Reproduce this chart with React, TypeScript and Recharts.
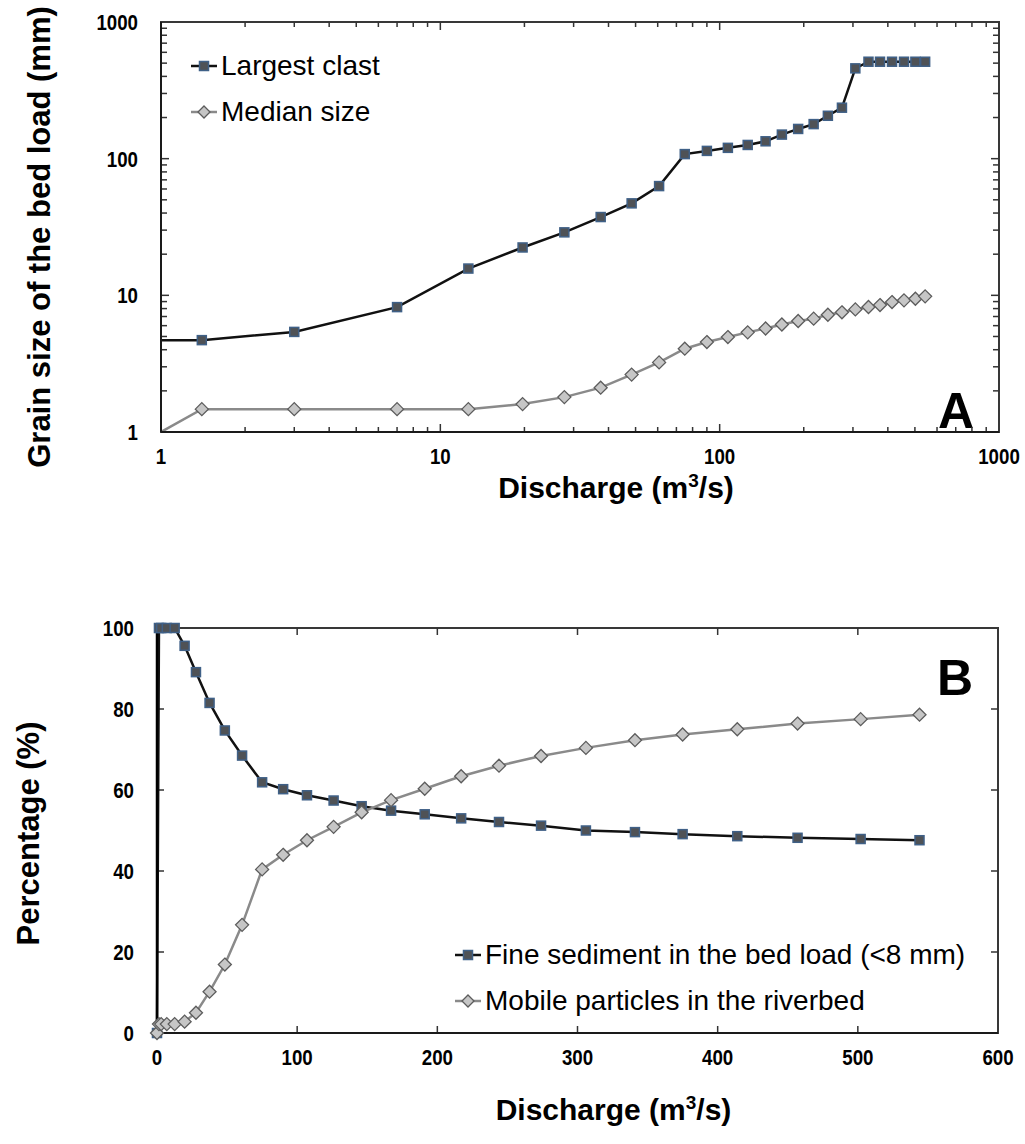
import React from "react";
import { LineChart, Line, XAxis, YAxis, Legend, ReferenceLine, ReferenceArea } from "recharts";

// Discharge steps (m³/s) shared by both panels
const discharge = [0, 1.4, 3, 7, 12.6, 19.7, 27.8, 37.5, 48.4, 60.7, 75, 90, 107, 126, 146, 167, 191, 217, 244, 274, 306, 341, 375, 414, 457, 502, 544];

// Panel A: grain size of the bed load (mm)
const largestClast = [4.7, 4.7, 5.4, 8.2, 15.7, 22.4, 28.9, 37.4, 47.1, 63, 108, 114, 120, 126, 134, 150, 165, 179, 206, 236, 458, 512, 512, 512, 512, 512, 512];
const medianSize = [1.0, 1.47, 1.47, 1.47, 1.47, 1.6, 1.8, 2.11, 2.63, 3.23, 4.07, 4.55, 4.95, 5.36, 5.72, 6.12, 6.49, 6.75, 7.21, 7.51, 7.89, 8.21, 8.49, 8.93, 9.19, 9.44, 9.83];

// Panel B: percentages (%)
const fineSediment = [0, 100, 100, 100, 100, 95.6, 89.1, 81.5, 74.7, 68.5, 61.9, 60.2, 58.7, 57.4, 56.0, 54.9, 54.0, 53.0, 52.1, 51.2, 50.0, 49.6, 49.1, 48.6, 48.2, 47.9, 47.6];
const mobileParticles = [0, 2.2, 2.2, 2.2, 2.2, 2.8, 5.0, 10.2, 16.9, 26.7, 40.4, 44.0, 47.6, 50.9, 54.5, 57.5, 60.3, 63.4, 66.0, 68.4, 70.4, 72.3, 73.7, 75.0, 76.4, 77.5, 78.6];

// Axis ticks
const logDecades = [1, 10, 100, 1000];
const dischargeTicks = [0, 100, 200, 300, 400, 500, 600];
const percentTicks = [0, 20, 40, 60, 80, 100];

const logTicks = [
  ...logDecades.slice(0, -1).flatMap((d) => [1, 2, 3, 4, 5, 6, 7, 8, 9].map((k) => k * d)),
  logDecades[logDecades.length - 1],
];

// zero discharge sits on the left edge of the log axis
const LOG_MIN = 1;

const grainData = discharge.map((q, i) => ({
  q: Math.max(q, LOG_MIN),
  largest: largestClast[i],
  median: medianSize[i],
}));

const percentData = discharge.map((q, i) => ({
  q,
  fine: fineSediment[i],
  mobile: mobileParticles[i],
}));

const FONT = "'Liberation Sans', Arial, Helvetica, sans-serif";

const DARK = { stroke: "#111", fill: "#4f5256", edge: "#3f6087" };
const LIGHT = { stroke: "#8a8a8a", fill: "#c6c6c6", edge: "#5c5c5c" };
const FRAME = "#383838";
const TICK = "#333";

const SquareDot = (props: any) => {
  const { cx, cy, index, hideFirst } = props;
  if (cx == null || cy == null || (hideFirst && index === 0)) return <g key={`s${index}`} />;
  return (
    <rect key={`s${index}`} x={cx - 4.5} y={cy - 4.5} width={9} height={9} fill={DARK.fill} stroke={DARK.edge} strokeWidth={1.5} />
  );
};

const DiamondDot = (props: any) => {
  const { cx, cy, index, hideFirst } = props;
  if (cx == null || cy == null || (hideFirst && index === 0)) return <g key={`d${index}`} />;
  const r = 6.5;
  return (
    <path
      key={`d${index}`}
      d={`M${cx},${cy - r}L${cx + r},${cy}L${cx},${cy + r}L${cx - r},${cy}Z`}
      fill={LIGHT.fill}
      stroke={LIGHT.edge}
      strokeWidth={1.3}
    />
  );
};

// condensed bold numerals for the tick labels
const NumLabel = ({ x, y, anchor, value }: any) => (
  <text
    transform={`translate(${x},${y}) scale(0.85,1)`}
    x={0}
    y={0}
    textAnchor={anchor}
    fontFamily={FONT}
    fontWeight={700}
    fontSize={22}
    fill="#000"
  >
    {String(value)}
  </text>
);

const makeXLabel = (labels: number[] | null) => (props: any) => {
  const { x, y, payload } = props;
  const v = payload.value;
  if (labels && !labels.includes(v)) return <g />;
  return <NumLabel x={x} y={y + 32} anchor="middle" value={v} />;
};

const makeYLabel = (labels: number[] | null) => (props: any) => {
  const { x, y, payload } = props;
  const v = payload.value;
  if (labels && !labels.includes(v)) return <g />;
  return <NumLabel x={x - 23} y={y + 8} anchor="end" value={v} />;
};

// inward tick marks on both opposite edges of the frame
const VerticalTickShape = (len: number) => (props: any) => {
  const { x1, x2, y1, y2 } = props;
  const lo = Math.max(y1, y2);
  const hi = Math.min(y1, y2);
  return (
    <g>
      <line x1={x1} x2={x2} y1={lo} y2={lo - len} stroke={TICK} strokeWidth={1.5} />
      <line x1={x1} x2={x2} y1={hi} y2={hi + len} stroke={TICK} strokeWidth={1.5} />
    </g>
  );
};

const HorizontalTickShape = (len: number) => (props: any) => {
  const { x1, x2, y1, y2 } = props;
  const l = Math.min(x1, x2);
  const r = Math.max(x1, x2);
  return (
    <g>
      <line x1={l} x2={l + len} y1={y1} y2={y2} stroke={TICK} strokeWidth={1.5} />
      <line x1={r} x2={r - len} y1={y1} y2={y2} stroke={TICK} strokeWidth={1.5} />
    </g>
  );
};

const titleStyle = { fontFamily: FONT, fontWeight: 700, fill: "#000" };

const DischargeTitle = ({ viewBox, dy }: any) => {
  const cx = viewBox.x + viewBox.width / 2 + 36;
  const y = viewBox.y + dy;
  return (
    <text x={cx} y={y} textAnchor="middle" fontSize={30} {...titleStyle}>
      Discharge (m
      <tspan dy={-11} fontSize={19}>3</tspan>
      <tspan dy={11}>/s)</tspan>
    </text>
  );
};

const VerticalTitle = ({ viewBox, text, bx, shift }: any) => {
  const x = bx;
  const y = viewBox.y + viewBox.height / 2 + shift;
  return (
    <text x={x} y={y} textAnchor="middle" fontSize={31} transform={`rotate(-90 ${x} ${y})`} {...titleStyle}>
      {text}
    </text>
  );
};

const PanelLetter = ({ viewBox, letter, baseline }: any) => (
  <text
    x={viewBox.x + viewBox.width - 43}
    y={viewBox.y + baseline(viewBox.height)}
    textAnchor="middle"
    fontFamily={FONT}
    fontWeight={700}
    fontSize={50}
    fill="#000"
  >
    {letter}
  </text>
);

const LegendIcon = ({ kind }: { kind: "dark" | "light" }) => (
  <svg width={28} height={16} style={{ display: "block", flex: "none" }}>
    <line x1={1} x2={27} y1={8} y2={8} stroke={kind === "dark" ? DARK.stroke : LIGHT.stroke} strokeWidth={2.5} />
    {kind === "dark" ? (
      <rect x={9.5} y={3.5} width={9} height={9} fill={DARK.fill} stroke={DARK.edge} strokeWidth={1.5} />
    ) : (
      <path d="M14,2L20,8L14,14L8,8Z" fill={LIGHT.fill} stroke={LIGHT.edge} strokeWidth={1.3} />
    )}
  </svg>
);

const makeLegend = (kinds: Record<string, "dark" | "light">, rowHeight: number) => (props: any) => {
  const { payload = [] } = props;
  return (
    <div style={{ display: "flex", flexDirection: "column" }}>
      {payload.map((entry: any) => (
        <div
          key={entry.value}
          style={{
            display: "flex",
            alignItems: "center",
            height: rowHeight,
            fontFamily: FONT,
            fontSize: 28,
            color: "#000",
            whiteSpace: "nowrap",
          }}
        >
          <LegendIcon kind={kinds[entry.dataKey] ?? "dark"} />
          <span style={{ marginLeft: 3 }}>{entry.value}</span>
        </div>
      ))}
    </div>
  );
};

const axisLine = { stroke: "#1a1a1a", strokeWidth: 2 };

function GrainSizePanel() {
  const innerTicks = logTicks.filter((t) => t > 1 && t < 1000);
  return (
    <LineChart
      width={1025}
      height={520}
      data={grainData}
      margin={{ top: 22, right: 26, left: 101, bottom: 58 }}
    >
      <XAxis
        dataKey="q"
        type="number"
        scale="log"
        domain={[1, 1000]}
        allowDataOverflow
        ticks={logTicks}
        interval={0}
        height={30}
        tickSize={0}
        tickMargin={0}
        tickLine={false}
        axisLine={axisLine}
        tick={makeXLabel(logDecades)}
        label={{ content: (p: any) => <DischargeTitle viewBox={p.viewBox} dy={66} /> }}
      />
      <YAxis
        type="number"
        scale="log"
        domain={[1, 1000]}
        allowDataOverflow
        ticks={logTicks}
        interval={0}
        width={60}
        tickSize={0}
        tickMargin={0}
        tickLine={false}
        axisLine={axisLine}
        tick={makeYLabel(logDecades)}
        label={{
          content: (p: any) => (
            <VerticalTitle viewBox={p.viewBox} text="Grain size of the bed load (mm)" bx={50} shift={10} />
          ),
        }}
      />
      <ReferenceArea
        x1={1}
        x2={1000}
        y1={1}
        y2={1000}
        fill="none"
        stroke={FRAME}
        strokeWidth={2}
        ifOverflow="visible"
        label={{
          content: (p: any) => <PanelLetter viewBox={p.viewBox} letter="A" baseline={(h: number) => h - 4} />,
        }}
      />
      {innerTicks.map((t) => (
        <ReferenceLine
          key={`vx${t}`}
          x={t}
          ifOverflow="visible"
          shape={VerticalTickShape(logDecades.includes(t) ? 8 : 5)}
        />
      ))}
      {innerTicks.map((t) => (
        <ReferenceLine
          key={`hy${t}`}
          y={t}
          ifOverflow="visible"
          shape={HorizontalTickShape(logDecades.includes(t) ? 8 : 6)}
        />
      ))}
      <Legend
        layout="vertical"
        align="center"
        verticalAlign="middle"
        wrapperStyle={{ position: "absolute", left: 190, top: 43, width: "auto" }}
        content={makeLegend({ largest: "dark", median: "light" }, 46)}
      />
      <Line
        dataKey="largest"
        name="Largest clast"
        stroke={DARK.stroke}
        strokeWidth={2.5}
        dot={(p: any) => <SquareDot {...p} hideFirst />}
        activeDot={false}
        isAnimationActive={false}
      />
      <Line
        dataKey="median"
        name="Median size"
        stroke={LIGHT.stroke}
        strokeWidth={2.5}
        dot={(p: any) => <DiamondDot {...p} hideFirst />}
        activeDot={false}
        isAnimationActive={false}
      />
    </LineChart>
  );
}

function PercentagePanel() {
  const innerX = dischargeTicks.filter((t) => t > 0 && t < 600);
  const innerY = percentTicks.filter((t) => t > 0 && t < 100);
  return (
    <LineChart
      width={1025}
      height={584}
      data={percentData}
      margin={{ top: 68, right: 27, left: 97, bottom: 81 }}
    >
      <XAxis
        dataKey="q"
        type="number"
        domain={[0, 600]}
        ticks={dischargeTicks}
        interval={0}
        height={30}
        tickSize={0}
        tickMargin={0}
        tickLine={false}
        axisLine={axisLine}
        tick={makeXLabel(null)}
        label={{ content: (p: any) => <DischargeTitle viewBox={p.viewBox} dy={87} /> }}
      />
      <YAxis
        type="number"
        domain={[0, 100]}
        ticks={percentTicks}
        interval={0}
        width={60}
        tickSize={0}
        tickMargin={0}
        tickLine={false}
        axisLine={{ stroke: "#000", strokeWidth: 2.5 }}
        tick={makeYLabel(null)}
        label={{
          content: (p: any) => <VerticalTitle viewBox={p.viewBox} text="Percentage (%)" bx={39} shift={3} />,
        }}
      />
      <ReferenceArea
        x1={0}
        x2={600}
        y1={0}
        y2={100}
        fill="none"
        stroke={FRAME}
        strokeWidth={2}
        ifOverflow="visible"
        label={{
          content: (p: any) => <PanelLetter viewBox={p.viewBox} letter="B" baseline={() => 67} />,
        }}
      />
      {innerX.map((t) => (
        <ReferenceLine key={`vx${t}`} x={t} ifOverflow="visible" shape={VerticalTickShape(7)} />
      ))}
      {innerY.map((t) => (
        <ReferenceLine key={`hy${t}`} y={t} ifOverflow="visible" shape={HorizontalTickShape(7)} />
      ))}
      <Legend
        layout="vertical"
        align="center"
        verticalAlign="middle"
        wrapperStyle={{ position: "absolute", left: 454, top: 372, width: "auto" }}
        content={makeLegend({ fine: "dark", mobile: "light" }, 46)}
      />
      <Line
        dataKey="fine"
        name="Fine sediment in the bed load (<8 mm)"
        stroke={DARK.stroke}
        strokeWidth={2.5}
        dot={(p: any) => <SquareDot {...p} />}
        activeDot={false}
        isAnimationActive={false}
      />
      <Line
        dataKey="mobile"
        name="Mobile particles in the riverbed"
        stroke={LIGHT.stroke}
        strokeWidth={2.5}
        dot={(p: any) => <DiamondDot {...p} />}
        activeDot={false}
        isAnimationActive={false}
      />
    </LineChart>
  );
}

export default function App() {
  return (
    <div style={{ position: "absolute", left: 0, top: 0, width: 1025, height: 1144, background: "#fff" }}>
      <div style={{ position: "absolute", left: 0, top: 0 }}>
        <GrainSizePanel />
      </div>
      <div style={{ position: "absolute", left: 0, top: 560 }}>
        <PercentagePanel />
      </div>
    </div>
  );
}
